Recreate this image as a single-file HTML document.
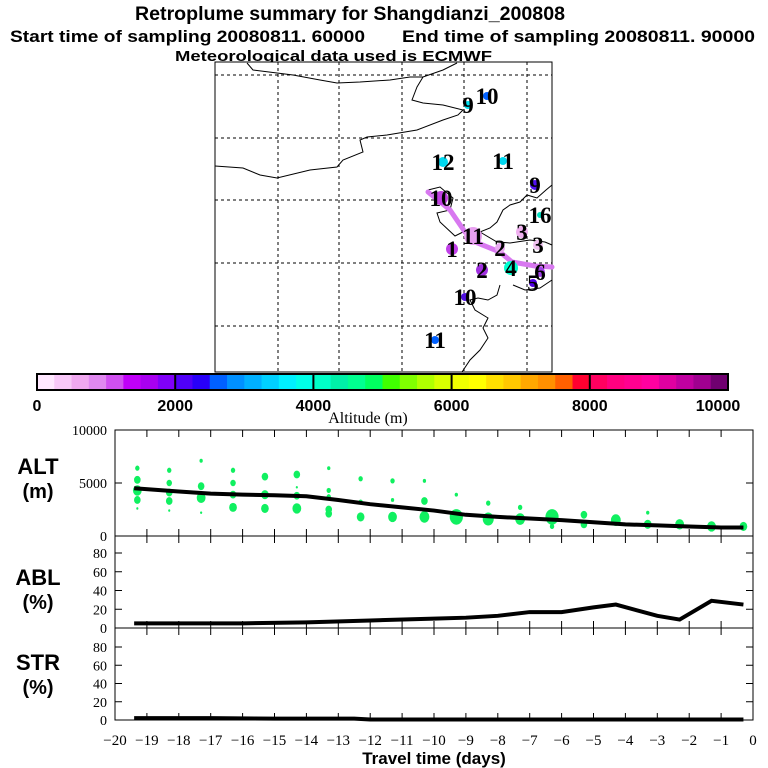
<!DOCTYPE html>
<html><head><meta charset="utf-8"><style>
html,body{margin:0;padding:0;background:#fff;width:768px;height:768px;overflow:hidden}
svg{display:block}
.t{font-family:"Liberation Sans",Arial,sans-serif;font-weight:bold}
.s{font-family:"Liberation Serif",serif}
</style></head><body>
<svg id="chart" width="768" height="768" viewBox="0 0 768 768" xmlns="http://www.w3.org/2000/svg">
<text class="t" x="135" y="20" font-size="19" textLength="430" lengthAdjust="spacingAndGlyphs">Retroplume summary for Shangdianzi_200808</text>
<text class="t" x="10" y="42" font-size="17" textLength="355" lengthAdjust="spacingAndGlyphs">Start time of sampling 20080811. 60000</text>
<text class="t" x="402" y="42" font-size="17" textLength="353" lengthAdjust="spacingAndGlyphs">End time of sampling 20080811. 90000</text>
<text class="t" x="175" y="61" font-size="15" textLength="317" lengthAdjust="spacingAndGlyphs">Meteorological data used is ECMWF</text>
<g id="map"></g>
<g id="cbar"></g>
<g id="panels"></g>
</svg>
<script>
// ---------- data ----------
const colorLevels = [0,2000,4000,6000,8000,10000];
const barColors = ["#ffe8ff","#f8c8f8","#f0a8f0","#e088f0","#d050f0","#c000f8","#a800f0","#8000f8",
"#5000f8","#2800f8","#0060ff","#0090ff","#00b0ff","#00d0ff","#00f0ff","#00ffe8",
"#00ffc8","#00f0a8","#00ff90","#00ff60","#40ff00","#80ff00","#b0ff00","#d8ff00",
"#f0ff00","#ffff00","#ffe000","#ffc800","#ffa800","#ff9000","#ff6000","#ff0030",
"#ff0060","#ff0080","#ff0090","#ff00a0","#e000a0","#c000a0","#a00090","#700070"];
const dayTicks = [-20,-19,-18,-17,-16,-15,-14,-13,-12,-11,-10,-9,-8,-7,-6,-5,-4,-3,-2,-1,0];
const altTicks = [0,5000,10000];
const pctTicks = [0,20,40,60,80];
const altLineDays = [-19.4,-18,-17,-16,-15,-14,-13,-12,-11,-10,-9,-8,-7,-6,-5,-4,-3,-2,-1,-0.3];
const altLineVals = [4500,4200,4000,3900,3850,3750,3400,3000,2700,2400,2000,1800,1650,1500,1300,1100,1000,900,800,800];
const ablDays = [-19.4,-18,-16,-14,-12,-10,-9,-8,-7,-6,-5,-4.3,-3,-2.3,-1.3,-0.3];
const ablVals = [5,5,5,6,8,10,11,13,17,17,22,25,13,9,29,25];
const strDays = [-19.4,-17,-15,-13,-12.5,-12,-8,-4,-0.3];
const strVals = [2,2,1.5,1.5,1.5,0.5,0.5,0.5,0.5];
const dotDays = [
-19.3,-19.3,-19.3,-19.3,-19.3,
-18.3,-18.3,-18.3,-18.3,-18.3,
-17.3,-17.3,-17.3,-17.3,
-16.3,-16.3,-16.3,-16.3,
-15.3,-15.3,-15.3,
-14.3,-14.3,-14.3,-14.3,
-13.3,-13.3,-13.3,-13.3,-13.3,
-12.3,-12.3,-12.3,
-11.3,-11.3,-11.3,
-10.3,-10.3,-10.3,
-9.3,-9.3,
-8.3,-8.3,
-7.3,-7.3,
-6.3,-6.3,
-5.3,-5.3,
-4.3,
-3.3,-3.3,
-2.3,
-1.3,
-0.3];
const dotAlts = [
6400,5300,4300,3400,2600,
6200,5000,4100,3300,2400,
7100,4700,3600,2200,
6200,5000,3900,2700,
5600,3900,2600,
5800,4600,3800,2600,
6400,4300,3700,2500,2100,
5400,3200,1800,
5200,3400,1800,
5200,3300,1800,
3900,1800,
3100,1600,
2700,1600,
1800,900,
2000,1100,
1500,
2200,1100,
1100,
900,
900];
const dotSizes = [
2,3,4,3,1,
2,2.5,3,3,1,
1.5,3,4,1,
2,2.5,3,3.5,
3,3.5,3.5,
3,1,3,4,
1.5,2,2,3,3,
2,2,3.5,
2,1.5,4,
1.5,3,4.5,
1.5,6,
2,5,
2,4.5,
6,2,
3,3,
4.5,
1.5,3.5,
4,
4,
3.5];

// ---------- helpers ----------
const NS="http://www.w3.org/2000/svg";
function mk(parent,tag,attrs,text){const e=document.createElementNS(NS,tag);for(const k in attrs)e.setAttribute(k,attrs[k]);if(text!==undefined)e.textContent=text;parent.appendChild(e);return e;}
const X0=115,X1=753;
const xDay=d=>X0+(d+20)*(X1-X0)/20;
const yAlt=v=>536-v/10000*106;
const yAbl=v=>628-v*0.9375;
const yStr=v=>720-v*0.9125;

// ---------- map ----------
const map=document.getElementById('map');
const MX0=215,MX1=552,MY0=62,MY1=372;
let r=mk(map,'rect',{x:MX0,y:MY0,width:MX1-MX0,height:MY1-MY0,fill:'#fff',stroke:'#000','stroke-width':1});


[278,339,402,464,527].forEach(x=>{const l=mk(map,'line',{x1:x,y1:MY0,x2:x,y2:MY1,stroke:'#000','stroke-dasharray':'3,3','stroke-width':1});

});
[75,138,200,263,326].forEach(y=>{const l=mk(map,'line',{x1:MX0,y1:y,x2:MX1,y2:y,stroke:'#000','stroke-dasharray':'3,3','stroke-width':1});

});
const coasts=[
"247,63 253,70 293,75 320,80 337,83 360,82 390,80 410,77 423,77 443,70 457,63",
"423,77 417,87 412,100 423,103 443,105 463,110 458,115 443,120 417,130 387,135 367,137 360,140 363,152 343,160 337,167 310,170 277,178 260,175 243,168 215,166",
"428,190 440,187 453,198 450,210 437,213 440,222 455,236 463,232 472,228 480,232 490,228 497,222 503,210 510,205 520,202 527,195 537,198 546,190 552,185",
"480,232 497,242 510,243 530,240 545,242 552,245",
"500,285 497,295 488,300 478,298 470,300 475,310 488,318 483,328 488,338 480,350 470,360 462,372",
"513,285 525,290 540,288 552,280"];
coasts.forEach(p=>{const e=mk(map,'polyline',{points:p,fill:'none',stroke:'#000','stroke-width':1});

});
const tr=mk(map,'polyline',{points:"428,192 450,210 465,232 475,242 500,252 512,262 535,266 552,267",fill:'none',stroke:'#d878f0','stroke-width':5,'stroke-linecap':'round'});


const mapPts=[[468,105,"9","#00e0f0",4],[487,96,"10","#0060ff",4],[443,162,"12","#00d8f0",5],[503,161,"11","#00d8f0",4],
[441,198,"10","#c040e0",7],[473,236,"11","#e8a0f0",9],[452,249,"1","#c040e8",6],[482,270,"2","#a030e0",6],
[511,268,"4","#00ffd0",7],[535,185,"9","#5010f0",5],[465,297,"10","#5010e0",4],[435,340,"11","#0060ff",4],
[500,248,"2","#e8a8f0",5],[522,232,"3","#f0b0f0",6],[538,245,"3","#f0c0f0",5],[533,283,"5","#5000e0",4],[540,272,"6","#a040e8",5],[540,215,"16","#00e0c0",3]];
mapPts.forEach(p=>{const c=mk(map,'circle',{cx:p[0],cy:p[1],r:p[4],fill:p[3]});


const t=mk(map,'text',{x:p[0],y:p[1]+8,'font-size':23,'font-weight':'bold','text-anchor':'middle',class:'s',fill:'#000'},p[2]);

});

// ---------- colorbar ----------
const cb=document.getElementById('cbar');
const CX0=37,CX1=728,CY=374,CH=16;
const sw=(CX1-CX0)/barColors.length;
barColors.forEach((c,i)=>{const e=mk(cb,'rect',{x:CX0+i*sw,y:CY,width:sw+0.5,height:CH,fill:c});

});
const cf=mk(cb,'rect',{x:CX0,y:CY,width:CX1-CX0,height:CH,fill:'none',stroke:'#000','stroke-width':2});


colorLevels.forEach(v=>{const x=CX0+v/10000*(CX1-CX0);
const l=mk(cb,'line',{x1:x,y1:CY,x2:x,y2:CY+CH,stroke:'#000','stroke-width':2});


const t=mk(cb,'text',{x:Math.min(Math.max(x,CX0-3),CX1-10),y:411,'font-size':16,'text-anchor':'middle',class:'t'},String(v));

});
const at=mk(cb,'text',{x:368,y:423,'font-size':16,'text-anchor':'middle',class:'s'},'Altitude (m)');



// ---------- panels ----------
const pg=document.getElementById('panels');
const panels=[{top:430,bot:536,name:'alt',lab:['ALT','(m)'],ly:474},{top:536,bot:628,name:'abl',lab:['ABL','(%)'],ly:585},{top:628,bot:720,name:'str',lab:['STR','(%)'],ly:670}];
panels.forEach(p=>{
const f=mk(pg,'rect',{x:X0,y:p.top,width:X1-X0,height:p.bot-p.top,fill:'none',stroke:'#000','stroke-width':1});


dayTicks.forEach(d=>{const x=xDay(d);
const a=mk(pg,'line',{x1:x,y1:p.top,x2:x,y2:p.top+7,stroke:'#000'});


const b=mk(pg,'line',{x1:x,y1:p.bot,x2:x,y2:p.bot-7,stroke:'#000'});

});
const t1=mk(pg,'text',{x:38,y:p.ly,'font-size':22,'text-anchor':'middle',class:'t'},p.lab[0]);


const t2=mk(pg,'text',{x:38,y:p.ly+24,'font-size':20,'text-anchor':'middle',class:'t'},p.lab[1]);


});
function yTicks(vals,fy){vals.forEach(v=>{const y=fy(v);
const a=mk(pg,'line',{x1:X0,y1:y,x2:X0+7,y2:y,stroke:'#000'});


const b=mk(pg,'line',{x1:X1,y1:y,x2:X1-7,y2:y,stroke:'#000'});


const t=mk(pg,'text',{x:X0-8,y:y+5,'font-size':14,'text-anchor':'end',class:'s'},String(v));

});}
yTicks(altTicks,yAlt);yTicks(pctTicks,yAbl);yTicks(pctTicks,yStr);
dayTicks.forEach(d=>{const t=mk(pg,'text',{x:xDay(d),y:745,'font-size':15,'text-anchor':'middle',class:'s'},d===0?'0':'\u2212'+Math.abs(d));

});
const xt=mk(pg,'text',{x:434,y:764,'font-size':17,'text-anchor':'middle',class:'t'},'Travel time (days)');


// green dots
dotDays.forEach((d,i)=>{const c=mk(pg,'ellipse',{cx:xDay(d),cy:yAlt(dotAlts[i]),rx:dotSizes[i]*1.1,ry:dotSizes[i]*1.3,fill:'#10f060'});

});
function line(days,vals,fy,name){const pts=days.map((d,i)=>xDay(d)+','+fy(vals[i])).join(' ');
const l=mk(pg,'polyline',{points:pts,fill:'none',stroke:'#000','stroke-width':4});

}
line(altLineDays,altLineVals,yAlt,'alt-median-line');
line(ablDays,ablVals,yAbl,'abl-line');
line(strDays,strVals,yStr,'str-line');
</script>
</body></html>
